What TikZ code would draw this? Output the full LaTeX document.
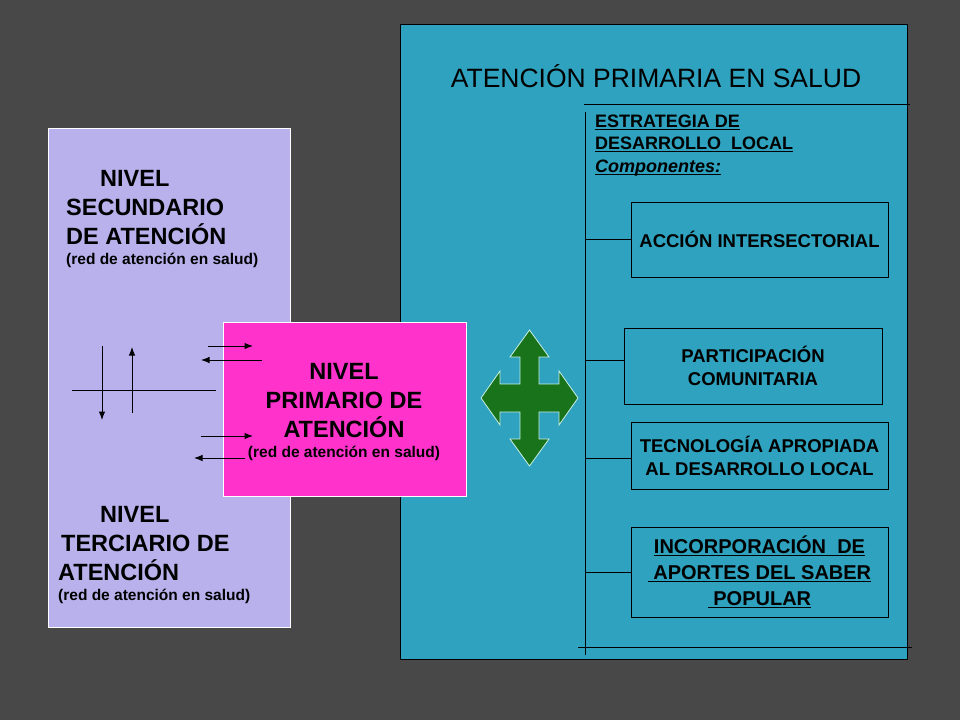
\documentclass[tikz,border=0pt]{standalone}
\usepackage{fontspec}
\setmainfont{Liberation Sans}
\usetikzlibrary{arrows.meta}
\usetikzlibrary{positioning}
\definecolor{slide}{RGB}{72,72,72}
\definecolor{levelLila}{RGB}{184,177,236}
\definecolor{levelPink}{RGB}{255,51,204}
\definecolor{apsTeal}{RGB}{46,162,190}
\definecolor{crossGreen}{RGB}{24,115,26}
\definecolor{crossEdge}{RGB}{200,240,232}
\newcommand{\netText}{\fontsize{15.5}{19}\selectfont}
\newcommand{\uLine}[1]{\setbox0\hbox{#1}\rlap{\rule[-2.5pt]{\wd0}{1.2pt}}\box0}
\tikzset{%
  >={Latex[width=6.5pt,length=8.5pt]},
  % Specifications for style of nodes:
       base/.style = {rectangle, draw=black, line width=0.9pt, inner sep=0pt},
   levelBox/.style = {base, draw=white, line width=0.7pt},
  levelText/.style = {align=left, inner sep=0pt,
                      font=\fontsize{23.5}{29}\selectfont\bfseries},
    compBox/.style = {base, minimum width=257pt, align=center,
                      font=\fontsize{18.5}{23}\selectfont\bfseries},
   thinLine/.style = {line width=1pt},
}

\begin{document}
\begin{tikzpicture}[x=1pt, y=-1pt]
  % Background of the slide
  \fill[slide] (0,0) rectangle (960,720);
  \useasboundingbox (0,0) rectangle (960,720);
  % Specification of the three big boxes
  \node (secondary) [levelBox, fill=levelLila, anchor=north west,
        minimum width=242pt, minimum height=499pt] at (48,128) {};
  \node (aps) [base, fill=apsTeal, anchor=north west,
        minimum width=507pt, minimum height=635pt] at (400,24) {};
  \node (primary) [levelBox, fill=levelPink,
        minimum width=243pt, minimum height=174pt] at (344.5,409) {};
  % Texts of the levels
  \node (secText) [levelText, anchor=north west] at (66,170)
        {\hspace*{34pt}NIVEL\\SECUNDARIO\\DE ATENCIÓN\\[-9pt]{\netText(red de atención en salud)}};
  \node (terText) [levelText, anchor=north west] at (58,506.5)
        {\hspace*{42pt}NIVEL\\\hspace*{3pt}TERCIARIO DE\\ATENCIÓN\\[-9pt]{\netText(red de atención en salud)}};
  \node (primText) [levelText, align=center, anchor=north] at (344,363)
        {NIVEL\\PRIMARIO DE\\ATENCIÓN\\[-9pt]{\netText(red de atención en salud)}};
  % Arrows between the levels
  \foreach \nm/\x/\y in {crossL/72/390, crossR/216/390, downA/102/346, downB/102/420,
      upA/132/413, upB/132/347, toPrimA/208/346, toPrimB/253/346,
      fromPrimA/262/360, fromPrimB/201/360, toPrimC/201/436, toPrimD/253/436,
      fromPrimC/245/458, fromPrimD/194/458}
    \coordinate (\nm) at (\x,\y);
  \draw[thinLine]    (crossL) -- (crossR);
  \draw[thinLine,->] (downA) -- (downB);
  \draw[thinLine,->] (upA) -- (upB);
  \draw[thinLine,->] (toPrimA) -- (toPrimB);
  \draw[thinLine,->] (fromPrimA) -- (fromPrimB);
  \draw[thinLine,->] (toPrimC) -- (toPrimD);
  \draw[thinLine,->] (fromPrimC) -- (fromPrimD);
  % Four way arrow
  \filldraw[fill=crossGreen, draw=crossEdge, line width=0.8pt, shift={(529.5,398)}]
    (0,-68) -- (19.5,-41) -- (9.5,-41) -- (9.5,-14) -- (29.5,-14) -- (29.5,-27)
    -- (48.5,0) -- (29.5,27) -- (29.5,14) -- (9.5,14) -- (9.5,41) -- (19.5,41)
    -- (0,68) -- (-19.5,41) -- (-9.5,41) -- (-9.5,14) -- (-29.5,14) -- (-29.5,27)
    -- (-48.5,0) -- (-29.5,-27) -- (-29.5,-14) -- (-9.5,-14) -- (-9.5,-41)
    -- (-19.5,-41) -- cycle;
  % Title and strategy
  \node (title) [font=\fontsize{26.5}{30}\selectfont, anchor=base] at (656,87)
        {ATENCIÓN PRIMARIA EN SALUD};
  \node (strategy) [anchor=north west, align=left, inner sep=0pt,
        font=\fontsize{18}{22.5}\selectfont\bfseries] at (595,114.5)
        {\uLine{ESTRATEGIA DE}\\\uLine{DESARROLLO\ \ LOCAL}\\\uLine{\itshape Componentes:}};
  % Specification of the components
  \node (accion) [compBox, minimum height=75pt] at (759.5,239.5) {ACCIÓN INTERSECTORIAL};
  \node (particip) [compBox, minimum width=258pt, minimum height=76pt] at (753,366)
        {PARTICIPACIÓN\\COMUNITARIA};
  \node (tecno) [compBox, minimum height=67pt] at (759.5,455.5)
        {TECNOLOGÍA APROPIADA\\AL DESARROLLO LOCAL};
  \node (saber) [compBox, minimum height=90pt, font=\fontsize{20}{26}\selectfont\bfseries]
        at (759.5,572) {\uLine{INCORPORACIÓN\ \ DE}\\\uLine{\ APORTES DEL SABER}\\\uLine{\ POPULAR}};
  % Lines of the strategy
  \coordinate (ruleTopL) at (584,104);  \coordinate (ruleTopR) at (910,104);
  \coordinate (ruleBotL) at (578,647);  \coordinate (ruleBotR) at (912,647);
  \coordinate (spineTop) at (585,112);  \coordinate (spineBot) at (585,655);
  \draw[thinLine] (ruleTopL) -- (ruleTopR);
  \draw[thinLine] (ruleBotL) -- (ruleBotR);
  \draw[thinLine] (spineTop) -- (spineBot);
  \foreach \comp/\yy in {accion/239, particip/360, tecno/458, saber/572}
    \draw[thinLine] (spineTop |- 0,\yy) -- (\comp.west |- 0,\yy);
\end{tikzpicture}
\end{document}
